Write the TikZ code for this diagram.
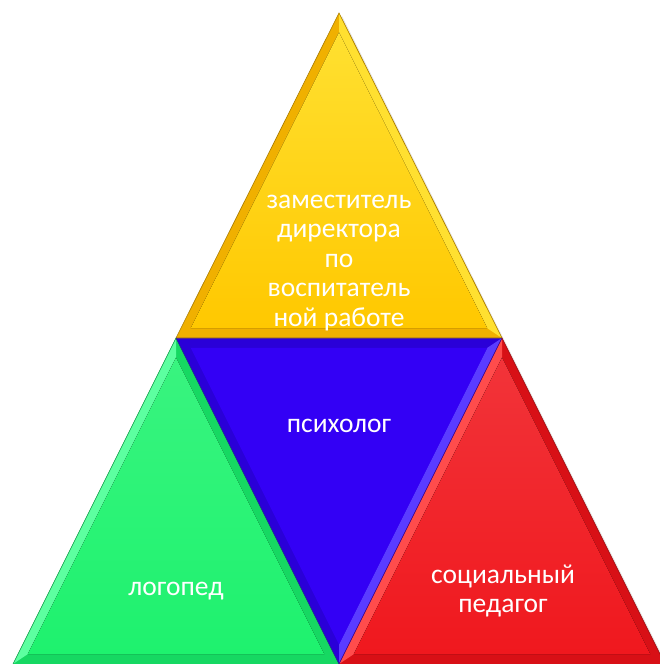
\documentclass[tikz,border=0pt]{standalone}
\usepackage{fontspec}
\setmainfont{Carlito}
\usetikzlibrary{calc}

\definecolor{yelout}{HTML}{F0B000}
\definecolor{yelin}{HTML}{FFC800}
\definecolor{yellit}{HTML}{FFE030}
\definecolor{bluout}{HTML}{2A00D8}
\definecolor{bluin}{HTML}{3300F5}
\definecolor{blulit}{HTML}{5A3CFF}
\definecolor{grnout}{HTML}{16D862}
\definecolor{grnin}{HTML}{1EF26E}
\definecolor{grnlit}{HTML}{5CFFA0}
\definecolor{redout}{HTML}{D81016}
\definecolor{redin}{HTML}{F0181E}
\definecolor{redlit}{HTML}{FF4C4C}

\tikzset{
  roletext/.style={text=white, align=center, font=\fontsize{27.5}{29.5}\selectfont},
}

\begin{document}
\begin{tikzpicture}[x=1pt, y=1pt]
    \useasboundingbox (0, 0) rectangle (660, 664);
    \clip (0, 0) rectangle (660, 664);

    % corners of the big triangle
    \coordinate (top) at (339, 651);
    \coordinate (midl) at (176, 326);
    \coordinate (midr) at (502, 326);
    \coordinate (botl) at (13, 0);
    \coordinate (botm) at (339, 0);
    \coordinate (botr) at (665, 0);

    % soft shadow
    \fill[black!10] ($(top)+(3,-3)$) -- ($(botr)+(3,-3)$) -- ($(botl)+(3,-3)$) -- cycle;

    % yellow
    \coordinate (cy) at (339, 434.3);
    \fill[yelout] (top) -- (midr) -- (midl) -- cycle;
    \fill[yellit] ($(cy)!0.91!(top)$) -- ($(cy)!0.91!(midr)$) -- (midr) -- (top) -- cycle;
    \fill[top color=yellit, bottom color=yelin]
        ($(cy)!0.91!(top)$) -- ($(cy)!0.91!(midr)$) -- ($(cy)!0.91!(midl)$) -- cycle;

    % blue
    \coordinate (cb) at (339, 217.3);
    \fill[bluout] (midl) -- (midr) -- (botm) -- cycle;
    \fill[blulit] ($(cb)!0.91!(midr)$) -- ($(cb)!0.91!(botm)$) -- (botm) -- (midr) -- cycle;
    \fill[bluin] ($(cb)!0.91!(midl)$) -- ($(cb)!0.91!(midr)$) -- ($(cb)!0.91!(botm)$) -- cycle;

    % green
    \coordinate (cg) at (176, 108.7);
    \fill[grnout] (midl) -- (botm) -- (botl) -- cycle;
    \fill[grnlit] ($(cg)!0.91!(midl)$) -- ($(cg)!0.91!(botl)$) -- (botl) -- (midl) -- cycle;
    \fill[top color=grnin!88!white, bottom color=grnin]
        ($(cg)!0.91!(midl)$) -- ($(cg)!0.91!(botm)$) -- ($(cg)!0.91!(botl)$) -- cycle;

    % red
    \coordinate (cr) at (502, 108.7);
    \fill[redout] (midr) -- (botr) -- (botm) -- cycle;
    \fill[redlit] ($(cr)!0.91!(midr)$) -- ($(cr)!0.91!(botm)$) -- (botm) -- (midr) -- cycle;
    \fill[top color=redin!88!white, bottom color=redin]
        ($(cr)!0.91!(midr)$) -- ($(cr)!0.91!(botr)$) -- ($(cr)!0.91!(botm)$) -- cycle;

    % thin outlines
    \draw[yelout!70!black, line width=0.6pt] (top) -- (midr) -- (midl) -- cycle;
    \draw[bluout!70!black, line width=0.6pt] (midl) -- (botm) -- (midr);
    \draw[grnout!70!black, line width=0.6pt] (midl) -- (botl);
    \draw[redout!70!black, line width=0.6pt] (midr) -- (botr);

    \node[roletext] (zam) at (339, 401) {заместитель\\директора\\по\\воспитатель\\ной работе};
    \node[roletext] (psy) at (339, 238) {психолог};
    \node[roletext] (log) at (176, 73) {логопед};
    \node[roletext] (soc) at (503, 73) {социальный\\педагог};
\end{tikzpicture}
\end{document}
